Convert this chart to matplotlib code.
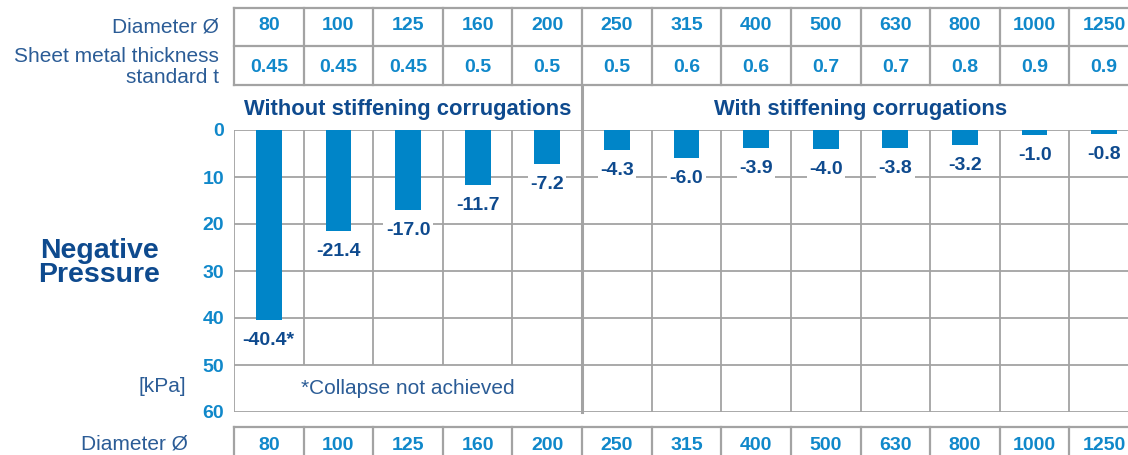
import matplotlib
matplotlib.use("Agg")
import matplotlib.pyplot as plt
from matplotlib.transforms import blended_transform_factory

plt.rcParams['font.family'] = ['Liberation Sans', 'DejaVu Sans']

# ---- data ----
diameters = ['80', '100', '125', '160', '200', '250', '315', '400', '500', '630', '800', '1000', '1250']
thickness = ['0.45', '0.45', '0.45', '0.5', '0.5', '0.5', '0.6', '0.6', '0.7', '0.7', '0.8', '0.9', '0.9']
pressure = [-40.4, -21.4, -17.0, -11.7, -7.2, -4.3, -6.0, -3.9, -4.0, -3.8, -3.2, -1.0, -0.8]
not_achieved = [True] + [False] * 12
y_ticks = [0, 10, 20, 30, 40, 50, 60]
group_labels = ['Without stiffening corrugations', 'With stiffening corrugations']
n_without = 5

# ---- style ----
BAR = '#0085C8'
NAVY = '#0E4A8E'
LIGHT = '#1088CA'
TEXT = '#2B5C96'
GRID = '#A3A3A3'
NUM_SIZE = 14

W, H = 1128, 455
fig = plt.figure(figsize=(W / 100, H / 100), dpi=100)

def fy(p):
    return 1 - p / H

ax = fig.add_axes([234 / W, fy(412), (1139 - 234) / W, (412 - 130) / H])
n = len(diameters)
x = list(range(n))
ax.set_xlim(-0.5, n - 0.5)
ax.set_ylim(60, 0)
for s in ax.spines.values():
    s.set_visible(False)
ax.set_xticks([])
ax.set_yticks(y_ticks)
ax.set_yticklabels([str(t) for t in y_ticks], fontsize=NUM_SIZE, fontweight='bold', color=LIGHT)
ax.tick_params(axis='y', length=0, pad=7)

# grid
ax.hlines(y_ticks, -0.5, n - 0.5, color=GRID, lw=1.3, zorder=0)
ax.vlines(-0.5, 0, 60, color=GRID, lw=1.3, zorder=0)
for b in range(1, n):
    xb = b - 0.5
    if b < n_without:
        ax.vlines(xb, 0, 50, color=GRID, lw=1.3, zorder=0)
    elif b > n_without:
        ax.vlines(xb, 0, 60, color=GRID, lw=1.3, zorder=0)

trans = blended_transform_factory(ax.transData, fig.transFigure)
# divider between groups
ax.plot([n_without - 0.5] * 2, [fy(87), fy(412)], transform=trans, color=GRID, lw=2.2,
        clip_on=False, zorder=1)

# bars
ax.bar(x, [-v for v in pressure], width=0.37, color=BAR, zorder=2)
for i, v in enumerate(pressure):
    lab = f"{v:.1f}" + ("*" if not_achieved[i] else "")
    ax.annotate(lab, xy=(i, -v), xytext=(0, -13.3), textcoords='offset points',
                ha='center', va='center_baseline', fontsize=NUM_SIZE, fontweight='bold',
                color=NAVY,
                bbox=dict(boxstyle='square,pad=0.12', fc='white', ec='none'), zorder=3)

ax.text((n_without - 1) / 2, 55, '*Collapse not achieved', ha='center', va='center',
        fontsize=15, color=TEXT)

# group headers
ax.text((n_without - 1) / 2, fy(109), group_labels[0], transform=trans, ha='center',
        va='center', fontsize=15.8, fontweight='bold', color=NAVY)
ax.text((n_without + n - 1) / 2, fy(109), group_labels[1], transform=trans, ha='center',
        va='center', fontsize=15.8, fontweight='bold', color=NAVY)

# top table
for yy in [8, 46, 85]:
    ax.plot([-0.5, n - 0.5], [fy(yy)] * 2, transform=trans, color=GRID, lw=1.6, clip_on=False)
for b in range(n + 1):
    ax.plot([b - 0.5] * 2, [fy(8), fy(85)], transform=trans, color=GRID, lw=1.6, clip_on=False)
for i in range(n):
    ax.text(i, fy(25.5), diameters[i], transform=trans, ha='center', va='center',
            fontsize=NUM_SIZE, fontweight='bold', color=LIGHT)
    ax.text(i, fy(67), thickness[i], transform=trans, ha='center', va='center',
            fontsize=NUM_SIZE, fontweight='bold', color=LIGHT)

# bottom table
ax.plot([-0.5, n - 0.5], [fy(427)] * 2, transform=trans, color=GRID, lw=1.6, clip_on=False)
for b in range(n + 1):
    ax.plot([b - 0.5] * 2, [fy(427), fy(470)], transform=trans, color=GRID, lw=1.6, clip_on=False)
for i in range(n):
    ax.text(i, fy(445), diameters[i], transform=trans, ha='center', va='center',
            fontsize=NUM_SIZE, fontweight='bold', color=LIGHT)

# left labels
fig.text(219 / W, fy(27), 'Diameter Ø', ha='right', va='center', fontsize=15, color=TEXT)
fig.text(219 / W, fy(56), 'Sheet metal thickness', ha='right', va='center', fontsize=15, color=TEXT)
fig.text(219 / W, fy(77), 'standard t', ha='right', va='center', fontsize=15, color=TEXT)
fig.text(99 / W, fy(263), 'Negative\nPressure', ha='center', va='center', fontsize=20.5,
         fontweight='bold', color=NAVY, linespacing=0.95)
fig.text(186 / W, fy(386), '[kPa]', ha='right', va='center', fontsize=15, color=TEXT)
fig.text(188 / W, fy(444), 'Diameter Ø', ha='right', va='center', fontsize=15, color=TEXT)

fig.savefig('out.png', dpi=100)
